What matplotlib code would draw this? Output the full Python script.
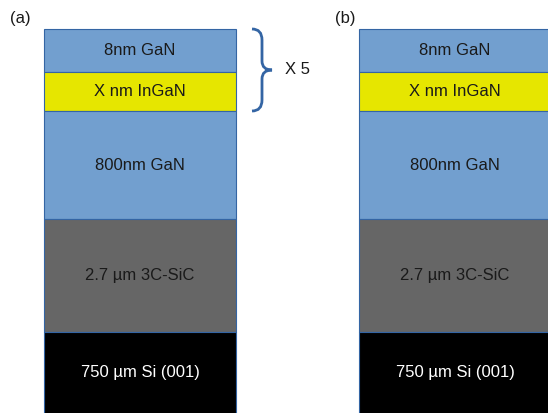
import numpy as np
import matplotlib
matplotlib.use("Agg")
import matplotlib.pyplot as plt
from matplotlib.path import Path
import matplotlib.patches as mpatches

plt.rcParams["font.family"] = ["Liberation Sans", "DejaVu Sans"]

# layer stack, top to bottom (display heights in px)
layer_names = ["8nm GaN", "X nm InGaN", "800nm GaN", "2.7 µm 3C-SiC", "750 µm Si (001)"]
layer_heights = [42.5, 39.5, 108, 113, 90]
layer_colors = ["#729fcf", "#e6e600", "#729fcf", "#666666", "#000000"]
text_colors = ["#1a1a1a", "#1a1a1a", "#1a1a1a", "#1a1a1a", "#ffffff"]

panel_labels = ["(a)", "(b)"]
panel_label_x = [31, 355]      # right edge of the panel letters
panel_x = [140, 455]           # stack centres
stack_width = 192
stack_top = 29
repeat_label = "X 5"
repeat_layers = 2              # number of top layers repeated

W, H = 548, 413
fig = plt.figure(figsize=(W / 100, H / 100), dpi=100)
ax = fig.add_axes([0, 0, 1, 1])
ax.set_xlim(0, W)
ax.set_ylim(H, 0)
ax.axis("off")

tops = stack_top + np.concatenate([[0], np.cumsum(layer_heights)[:-1]])

for lab, lx, xc in zip(panel_labels, panel_label_x, panel_x):
    ax.bar([xc] * len(layer_names), layer_heights, bottom=tops, width=stack_width,
           color=layer_colors, edgecolor="#3465a4", linewidth=0.8)
    for name, t, h, tc in zip(layer_names, tops, layer_heights, text_colors):
        yc = t + min(h, H - t) / 2 if name.startswith("750") else t + h / 2
        ax.text(xc, yc, name, ha="center", va="center", fontsize=12, color=tc)
    ax.text(lx, 18, lab, ha="right", va="center", fontsize=12, color="#1a1a1a")

# curly brace marking the repeated GaN/InGaN pair
y0 = stack_top
y1 = stack_top + sum(layer_heights[:repeat_layers])
ym = (y0 + y1) / 2
xl = panel_x[0] + stack_width / 2 + 16
xv = xl + 10
xt = xv + 10
verts = [(xl, y0), (xv, y0), (xv, y0 + 11),
         (xv, ym - 9),
         (xv, ym), (xt, ym),
         (xv, ym), (xv, ym + 9),
         (xv, y1 - 11),
         (xv, y1), (xl, y1)]
codes = [Path.MOVETO, Path.CURVE3, Path.CURVE3,
         Path.LINETO,
         Path.CURVE3, Path.CURVE3,
         Path.CURVE3, Path.CURVE3,
         Path.LINETO,
         Path.CURVE3, Path.CURVE3]
ax.add_patch(mpatches.PathPatch(Path(verts, codes), facecolor="none",
                                edgecolor="#3465a4", linewidth=2))
ax.text(xt + 13, ym, repeat_label, ha="left", va="center", fontsize=12, color="#1a1a1a")

fig.savefig("out.png", dpi=100)
